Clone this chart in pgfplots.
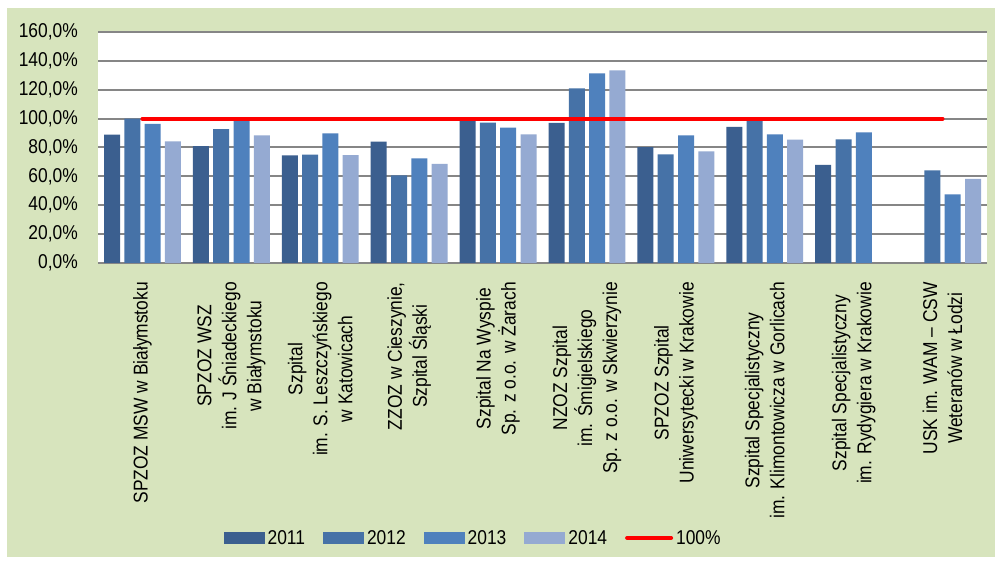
\documentclass[border=0pt]{standalone}
\usepackage{fontspec}
\setmainfont{Liberation Sans}[FakeStretch=0.87]
\usepackage{pgfplots}
\pgfplotsset{compat=1.18}
\definecolor{bg}{RGB}{215,228,189}
\definecolor{gridc}{RGB}{134,134,134}
\definecolor{cA}{RGB}{59,95,143}
\definecolor{cB}{RGB}{70,114,167}
\definecolor{cC}{RGB}{79,129,189}
\definecolor{cD}{RGB}{149,170,210}
\begin{document}
\begin{tikzpicture}[font=\fontsize{20}{25}\selectfont]
\path[use as bounding box] (0pt,0pt) rectangle (995pt,567pt);
\fill[bg] (7pt,10pt) rectangle (995pt,559pt);
\begin{axis}[
  at={(98pt,304pt)}, anchor=south west,
  scale only axis, width=889pt, height=231pt,
  xmin=-0.5, xmax=9.5, ymin=0, ymax=160,
  axis background/.style={fill=white},
  axis line style={draw=none},
  tick style={draw=none},
  ytick={0,20,...,160},
  ymajorgrids, major grid style={gridc, line width=2pt},
  /pgf/number format/assume math mode=true,
  yticklabel={\pgfmathprintnumber[fixed, fixed zerofill, precision=1, use comma]{\tick}\%},
  yticklabel style={anchor=east, inner sep=0pt, xshift=-20pt},
  xtick={0,...,9},
  xticklabels={
    {SPZOZ MSW w Białymstoku},
    {SPZOZ WSZ\\im. J Śniadeckiego\\w Białymstoku},
    {Szpital\\im. S. Leszczyńskiego\\w Katowicach},
    {ZZOZ w Cieszynie,\\Szpital Śląski},
    {Szpital Na Wyspie\\Sp. z o.o. w Żarach},
    {NZOZ Szpital\\im. Śmigielskiego\\Sp. z o.o. w Skwierzynie},
    {SPZOZ Szpital\\Uniwersytecki w Krakowie},
    {Szpital Specjalistyczny\\im. Klimontowicza w Gorlicach},
    {Szpital Specjalistyczny\\im. Rydygiera w Krakowie},
    {USK im. WAM – CSW\\Weteranów w Łodzi}},
  xticklabel style={rotate=90, anchor=east, align=center, inner sep=0pt},
  xticklabel shift=19pt,
  barleg/.style={legend image code/.code={\fill[##1] (0pt,-6pt) rectangle (41pt,6pt);}},
  legend columns=5,
  legend style={at={(0.4225,-1.19)}, anchor=center, draw=none, fill=none,
    font=\fontsize{20}{24}\selectfont,
    nodes={inner sep=3pt},
    /tikz/every even column/.append style={column sep=15pt}},
]
\addplot[ybar, bar width=16pt, bar shift=-30.45pt, fill=cA, draw=none, barleg] coordinates {
 (0,89) (1,81) (2,74.6) (3,84) (4,99) (5,97) (6,80.3) (7,94.2) (8,67.9)};
\addlegendentry{2011}
\addplot[ybar, bar width=16pt, bar shift=-10.15pt, fill=cB, draw=none, barleg] coordinates {
 (0,100) (1,92.8) (2,75) (3,60.7) (4,97.2) (5,121) (6,75.3) (7,99) (8,85.6) (9,64.2)};
\addlegendentry{2012}
\addplot[ybar, bar width=16pt, bar shift=10.15pt, fill=cC, draw=none, barleg] coordinates {
 (0,96.3) (1,98.5) (2,89.8) (3,72.5) (4,93.7) (5,131.3) (6,88.4) (7,89.1) (8,90.5) (9,47.6)};
\addlegendentry{2013}
\addplot[ybar, bar width=16pt, bar shift=30.45pt, fill=cD, draw=none, barleg] coordinates {
 (0,84.3) (1,88.4) (2,74.8) (3,68.6) (4,89.1) (5,133.4) (6,77.3) (7,85.4) (9,58.2)};
\addlegendentry{2014}
\addplot[red, line width=4pt, line cap=round,
  legend image code/.code={\draw[red, line width=4pt, line cap=round] (0pt,0pt) -- (44pt,0pt);}]
  coordinates {(0,100) (9,100)};
\addlegendentry{100\%}
\end{axis}
\end{tikzpicture}
\end{document}
